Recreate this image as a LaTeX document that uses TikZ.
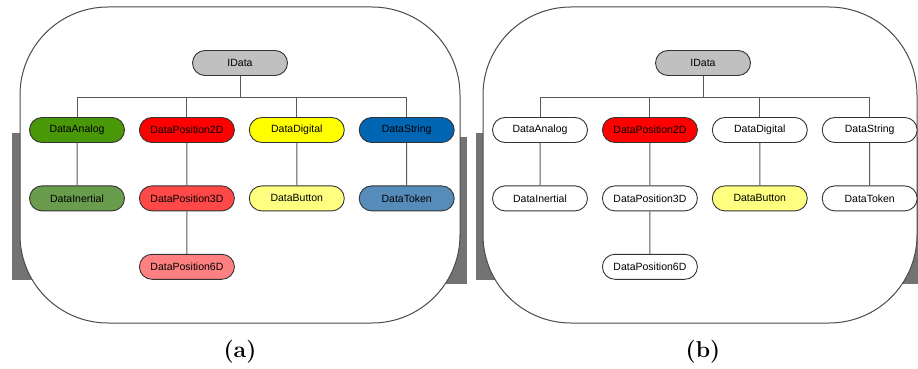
\documentclass[tikz,border=0pt]{standalone}
\usepackage{fontspec}
\newfontfamily\nodefont{Liberation Sans}
\usetikzlibrary{shapes.misc,positioning}

\definecolor{idgray}{RGB}{192,192,192}
\definecolor{analog}{RGB}{72,152,8}
\definecolor{inertial}{RGB}{106,156,78}
\definecolor{pos2d}{RGB}{255,0,0}
\definecolor{pos3d}{RGB}{255,72,72}
\definecolor{pos6d}{RGB}{255,128,128}
\definecolor{digital}{RGB}{255,255,0}
\definecolor{button}{RGB}{255,255,128}
\definecolor{string}{RGB}{0,102,180}
\definecolor{token}{RGB}{86,140,186}

\tikzset{
  box/.style={rounded rectangle, draw=black!80, line width=0.9pt, fill=white,
    minimum width=95pt, minimum height=25pt, inner sep=0pt,
    font=\nodefont\fontsize{10.5}{12}\selectfont},
  wire/.style={draw=black!65, line width=1pt},
  frame/.style={draw=black!70, line width=1pt, fill=white, rounded corners=88pt},
  bar/.style={fill=black!55, draw=none},
  caption/.style={font=\fontsize{23}{26}\selectfont\bfseries},
}

\begin{document}
\begin{tikzpicture}[x=1pt,y=-1pt]
  \useasboundingbox (0,0) rectangle (918,369);

  % gray bars behind the two frames
  \fill[bar] (12,133) rectangle (60,280);
  \fill[bar] (420,137) rectangle (467,284);
  \fill[bar] (476,133) rectangle (530,280);
  \fill[bar] (870,137) rectangle (918,284);

  % the two rounded frames
  \draw[frame] (20,7) rectangle (460,323);
  \draw[frame] (483,7) rectangle (917,323);

  % (a) every class coloured
  \node[box, fill=idgray] (a0) at (240,63) {IData};
  \node[box, fill=analog] (a1) at (77,130) {DataAnalog};
  \node[box, fill=pos2d, right=14pt of a1] (a2) {DataPosition2D};
  \node[box, fill=digital, right=14pt of a2] (a3) {DataDigital};
  \node[box, fill=string, right=14pt of a3] (a4) {DataString};
  \node[box, fill=inertial, below=42.5pt of a1] (a5) {DataInertial};
  \node[box, fill=pos3d, below=42.5pt of a2] (a6) {DataPosition3D};
  \node[box, fill=button, below=42.5pt of a3] (a7) {DataButton};
  \node[box, fill=token, below=42.5pt of a4] (a8) {DataToken};
  \node[box, fill=pos6d, below=42.5pt of a6] (a9) {DataPosition6D};

  \draw[wire] (a0.south) -- ++(0,21.5) -| (a1.north);
  \draw[wire] (a0.south) -- ++(0,21.5) -| (a2.north);
  \draw[wire] (a0.south) -- ++(0,21.5) -| (a3.north);
  \draw[wire] (a0.south) -- ++(0,21.5) -| (a4.north);
  \draw[wire] (a1) -- (a5);
  \draw[wire] (a2) -- (a6);
  \draw[wire] (a3) -- (a7);
  \draw[wire] (a4) -- (a8);
  \draw[wire] (a6) -- (a9);

  % (b) only two classes marked
  \node[box, fill=idgray] (b0) at (703,63) {IData};
  \node[box] (b1) at (540,130) {DataAnalog};
  \node[box, fill=pos2d, right=14pt of b1] (b2) {DataPosition2D};
  \node[box, right=14pt of b2] (b3) {DataDigital};
  \node[box, right=14pt of b3] (b4) {DataString};
  \node[box, below=42.5pt of b1] (b5) {DataInertial};
  \node[box, below=42.5pt of b2] (b6) {DataPosition3D};
  \node[box, fill=button, below=42.5pt of b3] (b7) {DataButton};
  \node[box, below=42.5pt of b4] (b8) {DataToken};
  \node[box, below=42.5pt of b6] (b9) {DataPosition6D};

  \draw[wire] (b0.south) -- ++(0,21.5) -| (b1.north);
  \draw[wire] (b0.south) -- ++(0,21.5) -| (b2.north);
  \draw[wire] (b0.south) -- ++(0,21.5) -| (b3.north);
  \draw[wire] (b0.south) -- ++(0,21.5) -| (b4.north);
  \draw[wire] (b1) -- (b5);
  \draw[wire] (b2) -- (b6);
  \draw[wire] (b3) -- (b7);
  \draw[wire] (b4) -- (b8);
  \draw[wire] (b6) -- (b9);

  % captions
  \node[caption] (capa) at (240,352) {(a)};
  \node[caption] (capb) at (703,352) {(b)};
\end{tikzpicture}
\end{document}
